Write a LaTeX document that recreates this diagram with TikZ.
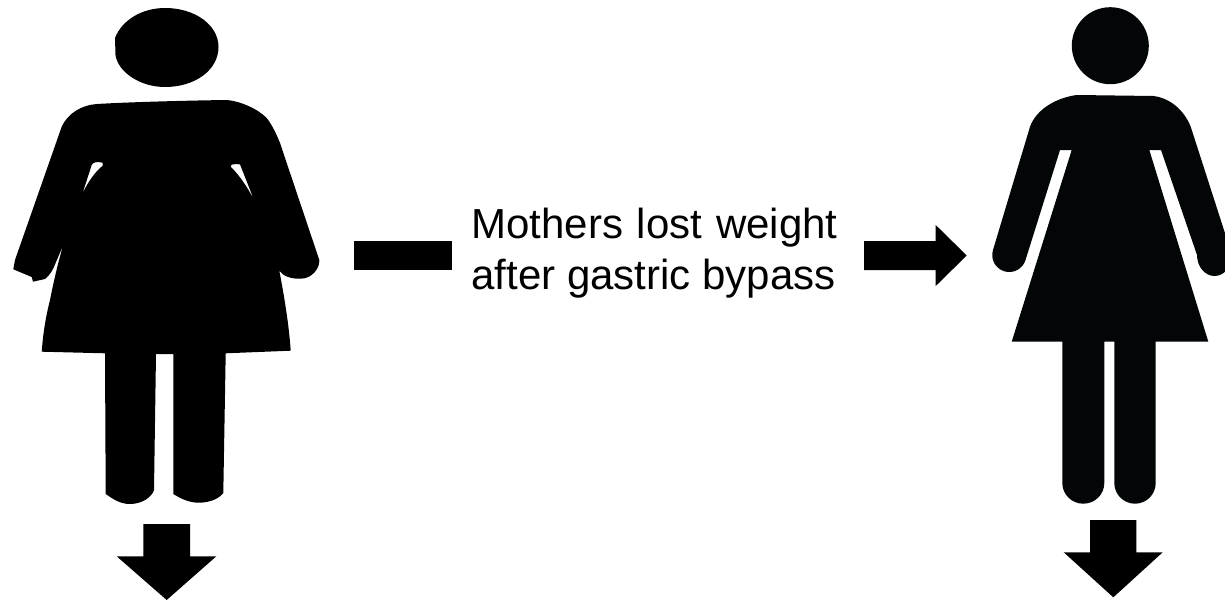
\documentclass[tikz,border=0pt]{standalone}
\usepackage{fontspec}
\setmainfont{Liberation Sans}
\definecolor{figblack}{HTML}{020607}
\tikzset{
  sil/.style={fill=black,draw=none},
  silr/.style={fill=figblack,draw=none},
  label/.style={inner sep=0pt,outer sep=0pt,align=left,font=\fontsize{42}{51}\selectfont}
}
\begin{document}
\begin{tikzpicture}[x=1pt,y=-1pt]
\path[use as bounding box] (0,0) rectangle (1225,602);
\clip (0,0) rectangle (1225,602);
% left head
\path[sil] (115,38) .. controls (122,20) and (142,8) .. (165,8)
  .. controls (195,8) and (218.5,25) .. (218.5,47)
  .. controls (218.5,70) and (195,87) .. (165,87)
  .. controls (140,87) and (118,72) .. (115.5,55) -- cycle;
% left body
\path[sil,even odd rule] (61.7,126.7)
  .. controls (68,113) and (82,105) .. (97,104)
  .. controls (130,102) and (190,100.5) .. (226.7,100)
  .. controls (240,101) and (258,109) .. (266.7,118)
  .. controls (272,125) and (276,133) .. (280,143)
  -- (319.3,260)
  .. controls (320,268) and (312,279) .. (300,278.7)
  .. controls (291,279) and (283,276) .. (279.3,270.7)
  .. controls (284,295) and (289,325) .. (290.7,350.7)
  -- (225.7,353.3) -- (223.3,493)
  .. controls (218,500) and (207,503) .. (197,502.7)
  .. controls (187,502) and (180,498) .. (173.3,494)
  -- (173.3,354) -- (156,354) -- (154,490)
  .. controls (152,497) and (142,504) .. (130,504)
  .. controls (120,504) and (113,499) .. (105.7,494)
  -- (105,353.3) -- (41.7,351.7)
  .. controls (43,335) and (45,320) .. (50,300)
  .. controls (53,285) and (58,262) .. (63.3,245)
  -- (56,262)
  .. controls (53,270) and (50,275) .. (45,279)
  -- (33,281.7) -- (31.7,277) -- (13.3,269.3) -- (15,260) -- cycle
  (82.3,194) -- (91.7,165)
  .. controls (93,162) and (97,161.5) .. (102.7,162.7)
  -- (102.7,165.7)
  .. controls (94,173) and (88,182) .. (82.3,194) -- cycle
  (231,165)
  .. controls (233,164) and (237,164) .. (240,164.3)
  -- (254,200)
  .. controls (248,188) and (240,176) .. (231,167) -- cycle;
% right head
\path[silr] (1110.3,45.7) circle[radius=38.5];
% right body
\path[silr] (1030,126.7)
  .. controls (1036,110) and (1055,98) .. (1076.7,95)
  -- (1153.3,96)
  .. controls (1170,98) and (1184,110) .. (1190.7,126.7)
  -- (1232,255)
  arc[start angle=0,end angle=180,x radius=17.5,y radius=21]
  -- (1161,150) -- (1149.3,150) -- (1208.3,341.7) -- (1155.7,341.7)
  -- (1155.7,483)
  arc[start angle=0,end angle=180,x radius=20.7,y radius=20.7]
  -- (1114.3,341.7) -- (1104.3,341.7) -- (1104.3,483)
  arc[start angle=0,end angle=180,x radius=21,y radius=20.7]
  -- (1062.3,341.7) -- (1011.7,341.7) -- (1071.7,150) -- (1060,150) -- (1025.5,260)
  arc[start angle=17,end angle=197,x radius=17,y radius=17]
  -- cycle;
% arrows
\path[sil] (143.3,524) -- (190,524) -- (190,556.3) -- (216.3,556.3) -- (166.7,600) -- (116.7,556.3) -- (143.3,556.3) -- cycle;
\path[sil] (1090,520) -- (1136.3,520) -- (1136.3,552.3) -- (1162.7,552.3) -- (1113.3,597.3) -- (1063.7,552.3) -- (1090,552.3) -- cycle;
\path[sil] (353.7,241) rectangle (452,270);
\path[sil] (864,241) -- (935.7,241) -- (935.7,225) -- (966.7,255.5) -- (935.7,286) -- (935.7,270) -- (864,270) -- cycle;
\node[label,anchor=north west] (caption) at (471.5,208)
  {\makebox[366pt][s]{Mothers\hfill lost\hfill weight}\\after gastric bypass};
\end{tikzpicture}
\end{document}
